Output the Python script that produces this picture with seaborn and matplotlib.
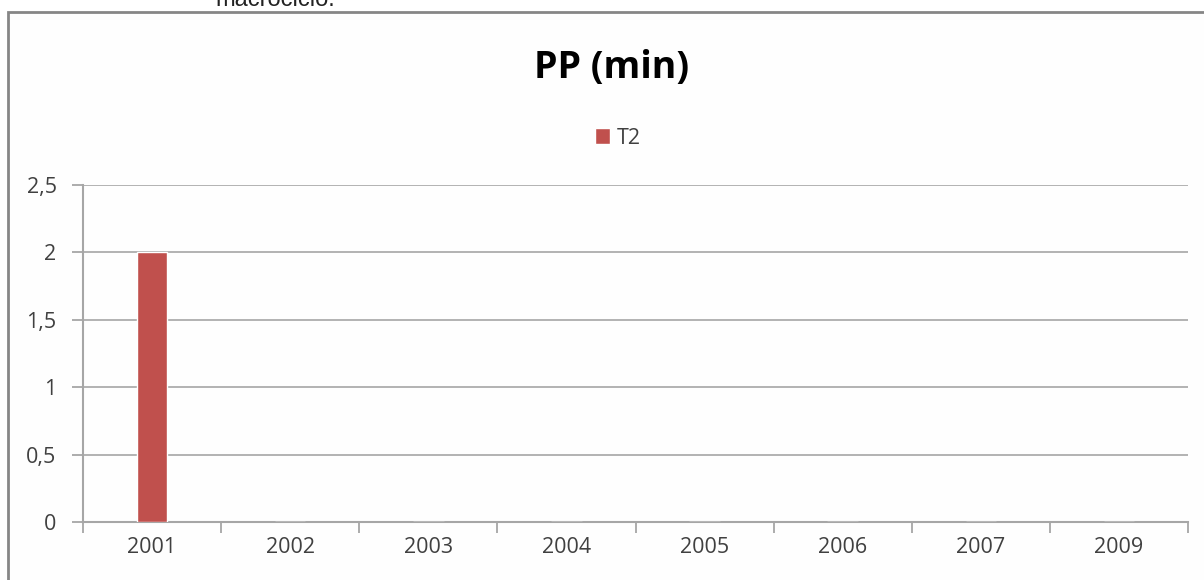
import matplotlib
matplotlib.use("Agg")
import matplotlib.pyplot as plt
from matplotlib.patches import Rectangle
import seaborn as sns
import pandas as pd

years = ["2001", "2002", "2003", "2004", "2005", "2006", "2007", "2009"]
t2 = [2, 0, 0, 0, 0, 0, 0, 0]
series_name = "T2"
y_ticks = [0, 0.5, 1, 1.5, 2, 2.5]
y_labels = ["0", "0,5", "1", "1,5", "2", "2,5"]

bar_color = "#C0504D"
axis_gray = "#A6A6A6"
text_color = "#404040"

sns.set_theme(style="white")
plt.rcParams["font.family"] = ["Open Sans", "DejaVu Sans"]

W, H = 1204, 580
fig = plt.figure(figsize=(W / 100, H / 100), dpi=100)
fig.patch.set_facecolor("white")

# caption fragment running off the top edge
fig.text(215 / W, 1 - 0 / H, "macrociclo.", ha="left", va="center",
         fontsize=17, color="#222222", family=["Liberation Sans", "DejaVu Sans"])

# chart frame
frame = Rectangle((8 / W, -0.2), 1.2, 1.2 - 12 / H,
                  transform=fig.transFigure, fill=True,
                  facecolor="#FEFEFE", edgecolor="#868686",
                  linewidth=2, zorder=-5)
fig.patches.append(frame)

ax = fig.add_axes([83 / W, 1 - 522 / H, (1188 - 83) / W, (522 - 185) / H])
ax.set_zorder(2)
ax.set_facecolor("none")

df = pd.DataFrame({"year": years, "value": t2})
sns.barplot(data=df, x="year", y="value", color=bar_color, width=0.22,
            saturation=1, ax=ax, label=series_name, zorder=3)

ax.set_xlim(-0.5, len(years) - 0.5)
ax.set_ylim(0, 2.5)
ax.set_yticks(y_ticks)
ax.set_yticklabels(y_labels)
ax.set_xlabel("")
ax.set_ylabel("")

for y in y_ticks[1:]:
    ax.axhline(y, color=axis_gray, linewidth=1.2, zorder=1)

for side in ["top", "right"]:
    ax.spines[side].set_visible(False)
for side in ["left", "bottom"]:
    ax.spines[side].set_color(axis_gray)
    ax.spines[side].set_linewidth(1.5)

# category boundary ticks on x
ax.set_xticks([i - 0.5 for i in range(len(years) + 1)], minor=True)
ax.tick_params(axis="x", which="minor", length=8, width=1.3, color=axis_gray,
               direction="out", bottom=True)
ax.tick_params(axis="x", which="major", length=0, labelsize=15.5,
               labelcolor=text_color, pad=11)
ax.tick_params(axis="y", length=8, width=1.3, color=axis_gray, direction="out",
               left=True, labelsize=15.5, labelcolor=text_color, pad=11)

fig.text(612 / W, 1 - 68 / H, "PP (min)", ha="center", va="center",
         fontsize=27, fontweight="bold", color="black")

leg = ax.legend(loc="center", bbox_to_anchor=(618 / W, 1 - 138 / H),
                bbox_transform=fig.transFigure, frameon=False,
                prop={"size": 15.5}, handlelength=0.7, handleheight=0.7,
                handletextpad=0.3)
for t in leg.get_texts():
    t.set_color(text_color)

fig.savefig("out.png", dpi=100)
